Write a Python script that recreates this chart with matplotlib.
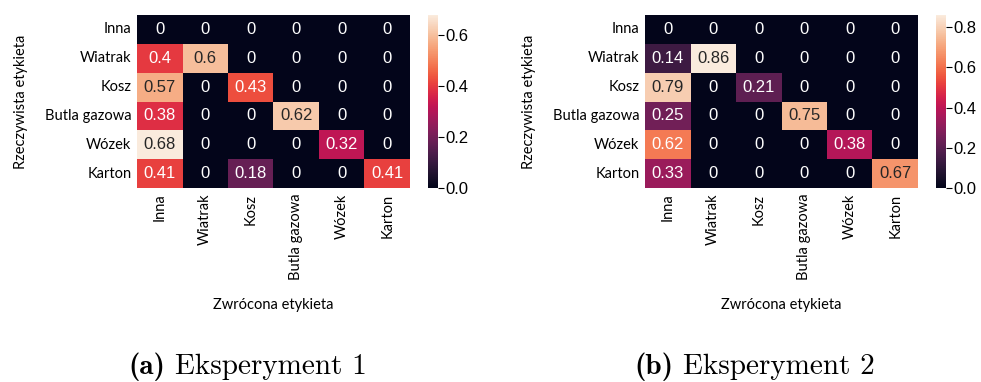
import numpy as np
import matplotlib
matplotlib.use("Agg")
import matplotlib.pyplot as plt
import matplotlib.ticker as mticker
import seaborn as sns

# ---------- Data ----------
labels = ["Inna", "Wiatrak", "Kosz", "Butla gazowa", "Wózek", "Karton"]

exp1 = [
    [0,    0,   0,    0,    0,    0],
    [0.4,  0.6, 0,    0,    0,    0],
    [0.57, 0,   0.43, 0,    0,    0],
    [0.38, 0,   0,    0.62, 0,    0],
    [0.68, 0,   0,    0,    0.32, 0],
    [0.41, 0,   0.18, 0,    0,    0.41],
]

exp2 = [
    [0,    0,    0,    0,    0,    0],
    [0.14, 0.86, 0,    0,    0,    0],
    [0.79, 0,    0.21, 0,    0,    0],
    [0.25, 0,    0,    0.75, 0,    0],
    [0.62, 0,    0,    0,    0.38, 0],
    [0.33, 0,    0,    0,    0,    0.67],
]

captions = [("(a)", "Eksperyment 1"), ("(b)", "Eksperyment 2")]

# ---------- Style ----------
TICK_FONT = "Lato"
plt.rcParams["font.family"] = "Liberation Sans"   # numbers + colorbar

fig = plt.figure(figsize=(9.81, 3.82), dpi=100)

# layout in pixels: heatmap left, colorbar left, caption split point
panels = [
    dict(hx=137, cx=428, cap_b=165, cap_n=175),
    dict(hx=645, cx=936, cap_b=673, cap_n=683),
]
W, H = 981, 382
top, bot = 15, 188

for data, p, cap in zip([exp1, exp2], panels, captions):
    ax = fig.add_axes([p["hx"] / W, 1 - bot / H, 273 / W, (bot - top) / H])
    cax = fig.add_axes([p["cx"] / W, 1 - bot / H, 9.5 / W, (bot - top) / H])
    sns.heatmap(np.array(data), ax=ax, cbar_ax=cax, cmap="rocket",
                annot=True, fmt=".2g", annot_kws={"fontsize": 12},
                xticklabels=labels, yticklabels=labels)
    ax.tick_params(length=0, pad=4)
    ax.set_xticklabels(labels, rotation=90, fontsize=10.5, family=TICK_FONT)
    ax.set_yticklabels(labels, rotation=0, fontsize=10.5, family=TICK_FONT)
    ax.set_xlabel("Zwrócona etykieta", fontsize=10.5, family=TICK_FONT, labelpad=13)
    ax.set_ylabel("Rzeczywista etykieta", fontsize=10.5, family=TICK_FONT, labelpad=12)

    cax.yaxis.set_major_formatter(mticker.FormatStrFormatter("%.1f"))
    cax.tick_params(labelsize=12, length=4, width=0.8, pad=2)

    ycap = 1 - 367 / H
    fig.text(p["cap_b"] / W, ycap, cap[0], family="cmb10", fontsize=21,
             ha="right", va="center")
    fig.text(p["cap_n"] / W, ycap, cap[1], family="cmr10", fontsize=21,
             ha="left", va="center")

fig.savefig("out.png", dpi=100)
